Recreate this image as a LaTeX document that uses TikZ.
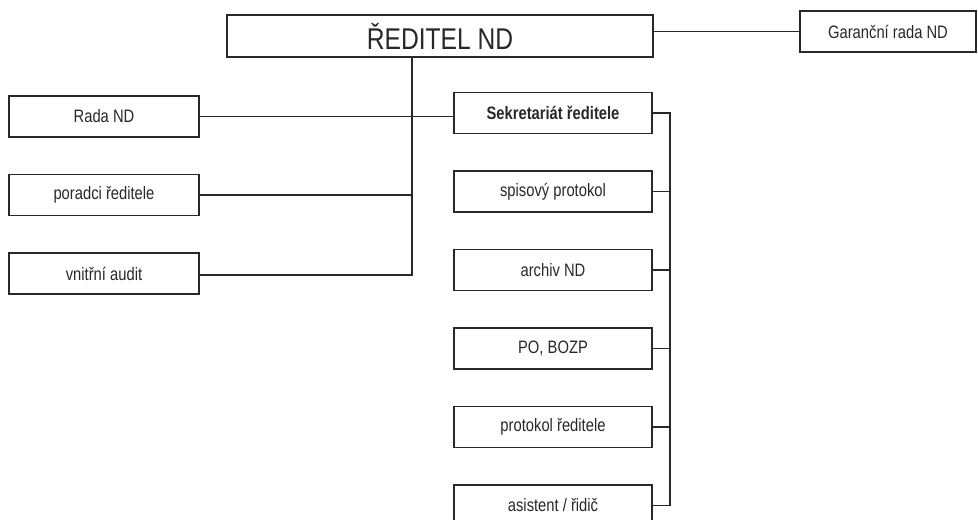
\documentclass[tikz,border=0pt]{standalone}
\usepackage{fontspec}
\setmainfont[FakeStretch=0.82]{Liberation Sans}
\usepackage{tikz}
\usetikzlibrary{positioning}
\definecolor{scan}{RGB}{40,40,40}
\tikzstyle{unit}=[
        draw = scan,
        line width = 0.7pt,
        fill = white,
        minimum width = 95pt,
        minimum height = 20.5pt,
        inner sep = 0pt,
        font = \fontsize{9}{10}\selectfont,
        text = scan
    ]
\tikzstyle{head}=[
    unit,
    minimum width = 213pt,
    minimum height = 21pt,
    font = \fontsize{15}{17}\selectfont
]
\begin{document}
\begin{tikzpicture}[x=0.5pt, y=-0.5pt, node distance={39.25pt}, line width=0.55pt, draw=scan]
        \useasboundingbox (0,0) rectangle (978,519);
        \node[head] (dir) at (440,36) {ŘEDITEL ND};
        \node[unit, minimum width=88pt] (gar) at (888,31.5) {Garanční rada ND};

        % left column
        \node[unit] (rada) at (104,116.5) {Rada ND};
        \node[unit] (porad) [below of = rada] {poradci ředitele};
        \node[unit] (audit) [below of = porad] {vnitřní audit};

        % right column
        \node[unit, minimum width=99pt] (sekr) at (553,113) {\bfseries Sekretariát ředitele};
        \node[unit, minimum width=99pt] (spis) [below of = sekr] {spisový protokol};
        \node[unit, minimum width=99pt] (arch) [below of = spis] {archiv ND};
        \node[unit, minimum width=99pt] (bozp) [below of = arch] {PO, BOZP};
        \node[unit, minimum width=99pt] (prot) [below of = bozp] {protokol ředitele};
        \node[unit, minimum width=99pt] (asist) [below of = prot] {asistent / řidič};

        \coordinate (trunk) at (412,275);
        \coordinate (bus) at (670,0);

        \draw[scan] (dir.east |- gar) -- (gar);
        \draw[scan] (dir.south -| trunk) -- (trunk) -- (trunk -| audit.east);
        \draw[scan] (porad) -- (porad -| trunk);
        \draw[scan] (rada) -- (rada -| sekr.west);
        \draw[scan] (sekr.east) -- (sekr.east -| bus) -- (asist.east -| bus) -- (asist.east);
        \draw[scan] (spis.east) -- (spis.east -| bus);
        \draw[scan] (arch.east) -- (arch.east -| bus);
        \draw[scan] (bozp.east) -- (bozp.east -| bus);
        \draw[scan] (prot.east) -- (prot.east -| bus);

    \end{tikzpicture}
\end{document}
